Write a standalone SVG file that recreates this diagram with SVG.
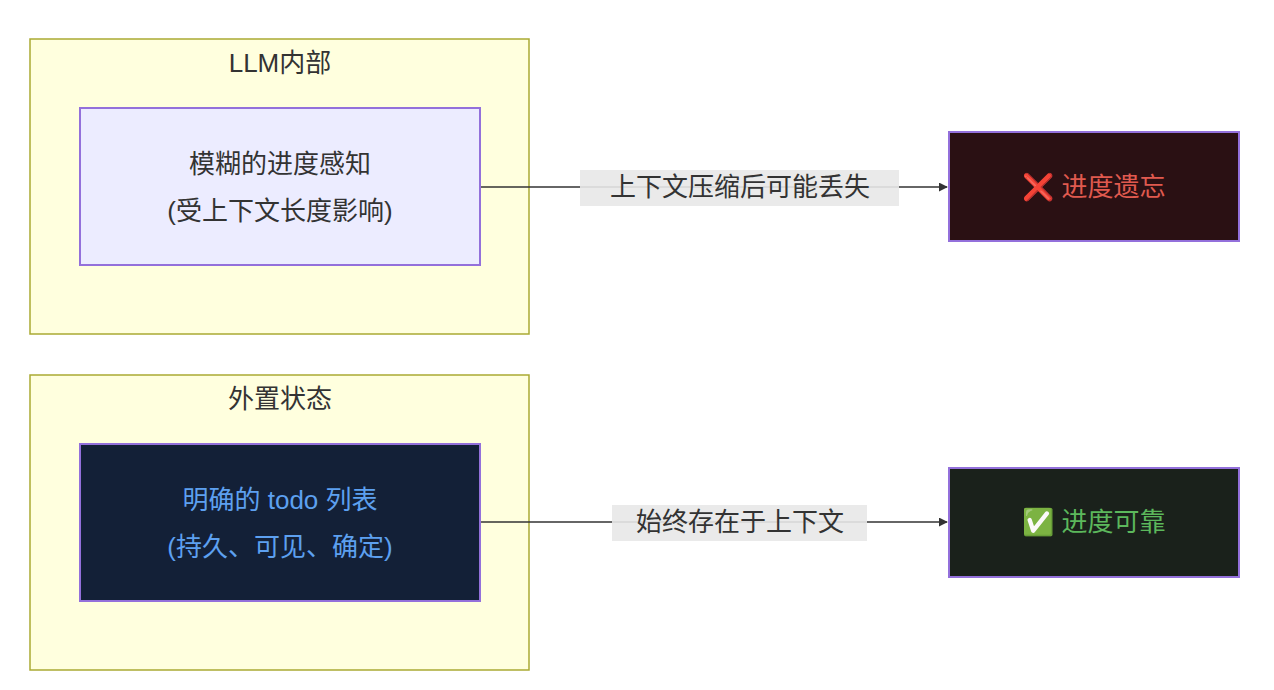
<svg xmlns="http://www.w3.org/2000/svg" width="1274" height="690" viewBox="0 0 1274 690">
<style>
text{font-family:"Liberation Sans","Noto Sans CJK SC",sans-serif;font-size:26px;text-anchor:middle;dominant-baseline:central}
.cl{fill:#ffffde;stroke:#aaaa33;stroke-width:1.5}
.nd{stroke:#9370db;stroke-width:2}
.e{stroke:#333;stroke-width:1.5;fill:none}
.lb{fill:#e8e8e8;opacity:0.9}
</style>
<defs><marker id="ah" viewBox="0 0 10 10" refX="9" refY="5" markerWidth="9" markerHeight="9" markerUnits="userSpaceOnUse" orient="auto"><path d="M0,0L10,5L0,10z" fill="#333"/></marker></defs>
<g id="cluster1"><rect class="cl" x="30" y="39" width="499" height="295"/><text x="280" y="63" fill="#333">LLM内部</text></g>
<g id="cluster2"><rect class="cl" x="30" y="375" width="499" height="295"/><text x="280" y="399" fill="#333">外置状态</text></g>
<g id="connectors">
<path class="e" d="M480,187H947" marker-end="url(#ah)"/>
<rect class="lb" x="580" y="170" width="319" height="36"/><text x="740" y="187" fill="#333">上下文压缩后可能丢失</text>
<path class="e" d="M480,522H947" marker-end="url(#ah)"/>
<rect class="lb" x="612" y="505" width="255" height="36"/><text x="740" y="522" fill="#333">始终存在于上下文</text>
</g>
<g id="A"><rect class="nd" x="80" y="108" width="400" height="157" fill="#ececff"/><text x="280" y="164" fill="#333">模糊的进度感知</text><text x="280" y="211" fill="#333">(受上下文长度影响)</text></g>
<g id="B"><rect class="nd" x="80" y="444" width="400" height="157" fill="#132037"/><text x="280" y="500" fill="#5da0f0">明确的 todo 列表</text><text x="280" y="547" fill="#5da0f0">(持久、可见、确定)</text></g>
<g id="C"><rect class="nd" x="949" y="132" width="290" height="109" fill="#2a1013"/><text x="1094" y="187" fill="#e05a4f">❌ 进度遗忘</text></g>
<g id="D"><rect class="nd" x="949" y="468" width="290" height="109" fill="#1a211b"/><text x="1094" y="522" fill="#5cb85c">✅ 进度可靠</text></g>
</svg>
